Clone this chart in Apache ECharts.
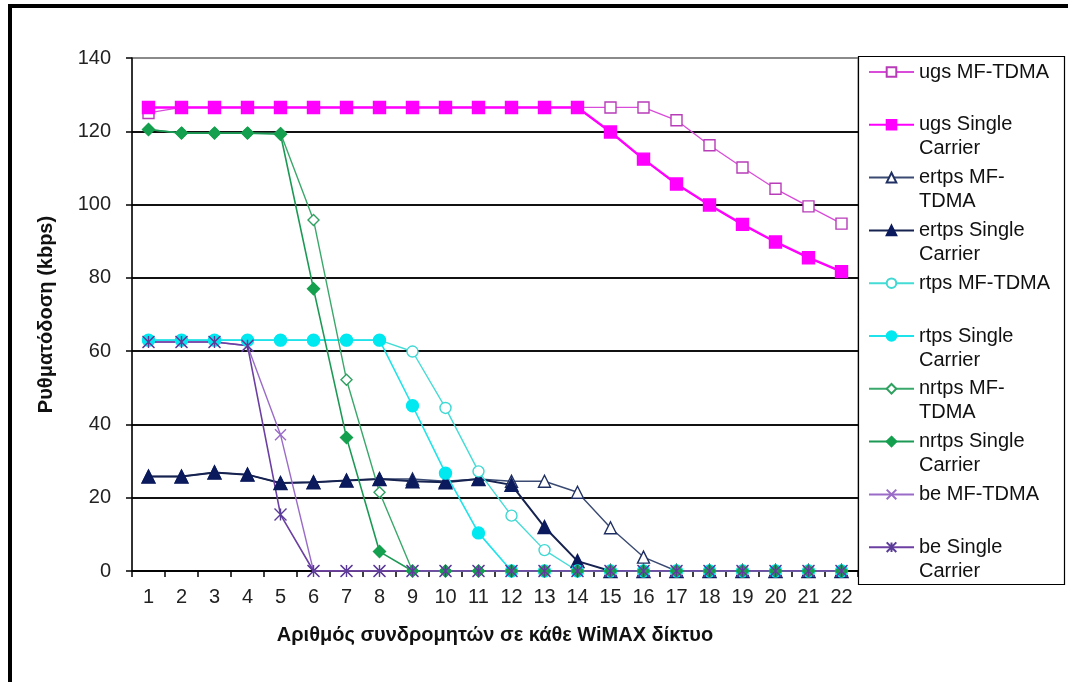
<!DOCTYPE html>
<html>
<head>
<meta charset="utf-8">
<script src="https://cdn.jsdelivr.net/npm/echarts@6/dist/echarts.min.js"></script>
<style>
  html, body { margin: 0; padding: 0; background: #ffffff; }
  #chart { width: 1068px; height: 682px; }
</style>
</head>
<body>
<div id="chart"></div>
<script>
// Subscribers per WiMAX network (x) and throughput in kbps (y)
const categories = ['1','2','3','4','5','6','7','8','9','10','11','12','13','14','15','16','17','18','19','20','21','22'];

const ugsMF       = [125, 126.5, 126.5, 126.5, 126.5, 126.5, 126.5, 126.5, 126.5, 126.5, 126.5, 126.5, 126.5, 126.5, 126.5, 126.5, 123, 116.2, 110.1, 104.3, 99.5, 94.8];
const ugsSingle   = [126.5, 126.5, 126.5, 126.5, 126.5, 126.5, 126.5, 126.5, 126.5, 126.5, 126.5, 126.5, 126.5, 126.5, 119.8, 112.4, 105.6, 99.9, 94.6, 89.8, 85.5, 81.7];
const ertpsMF     = [25.8, 25.8, 26.9, 26.3, 24.0, 24.2, 24.7, 25.1, 25.1, 24.5, 25.1, 24.5, 24.5, 21.5, 11.8, 3.8, 0, 0, 0, 0, 0, 0];
const ertpsSingle = [25.8, 25.8, 26.9, 26.3, 24.0, 24.2, 24.7, 25.1, 24.5, 24.2, 25.1, 23.5, 12.0, 2.7, 0, 0, 0, 0, 0, 0, 0, 0];
const rtpsMF      = [63, 63, 63, 63, 63, 63, 63, 63, 59.9, 44.5, 27.2, 15.1, 5.7, 0, 0, 0, 0, 0, 0, 0, 0, 0];
const rtpsSingle  = [63, 63, 63, 63, 63, 63, 63, 63, 45.1, 26.7, 10.4, 0, 0, 0, 0, 0, 0, 0, 0, 0, 0, 0];
const nrtpsMF     = [120.5, 119.5, 119.5, 119.5, 119.5, 95.8, 52.2, 21.5, 0, 0, 0, 0, 0, 0, 0, 0, 0, 0, 0, 0, 0, 0];
const nrtpsSingle = [120.5, 119.5, 119.5, 119.5, 119.2, 77.0, 36.4, 5.3, 0, 0, 0, 0, 0, 0, 0, 0, 0, 0, 0, 0, 0, 0];
const beMF        = [62.5, 62.5, 62.5, 61.5, 37.2, 0, 0, 0, 0, 0, 0, 0, 0, 0, 0, 0, 0, 0, 0, 0, 0, 0];
const beSingle    = [62.5, 62.5, 62.5, 61.5, 15.4, 0, 0, 0, 0, 0, 0, 0, 0, 0, 0, 0, 0, 0, 0, 0, 0, 0];

const seriesNames = [
  'ugs MF-TDMA', 'ugs Single Carrier',
  'ertps MF-TDMA', 'ertps Single Carrier',
  'rtps MF-TDMA', 'rtps Single Carrier',
  'nrtps MF-TDMA', 'nrtps Single Carrier',
  'be MF-TDMA', 'be Single Carrier'
];
// Legend text as it wraps inside the legend box (one entry per series)
const legendText = [
  ['ugs MF-TDMA'], ['ugs Single', 'Carrier'],
  ['ertps MF-', 'TDMA'], ['ertps Single', 'Carrier'],
  ['rtps MF-TDMA'], ['rtps Single', 'Carrier'],
  ['nrtps MF-', 'TDMA'], ['nrtps Single', 'Carrier'],
  ['be MF-TDMA'], ['be Single', 'Carrier']
];
const yTickValues = [0, 20, 40, 60, 80, 100, 120, 140];

const seriesData = [ugsMF, ugsSingle, ertpsMF, ertpsSingle, rtpsMF, rtpsSingle, nrtpsMF, nrtpsSingle, beMF, beSingle];

// Marker shapes: cross (×) and asterisk (× with a vertical bar)
const CROSS = 'path://M0,0L10,10M10,0L0,10';
const STAR = 'path://M0,0L10,10M10,0L0,10M5,0L5,10';

const looks = [
  { line: '#d94cd9', fill: '#ffffff', edge: '#b83cb8', symbol: 'rect',     size: 11, width: 1.3 },
  { line: '#ff00ff', fill: '#ff00ff', edge: '#ff00ff', symbol: 'rect',     size: 12, width: 2.4 },
  { line: '#3a4a72', fill: '#ffffff', edge: '#1f2f63', symbol: 'triangle', size: 12, width: 1.4 },
  { line: '#16224f', fill: '#0b1a5c', edge: '#0b1a5c', symbol: 'triangle', size: 13, width: 2.0 },
  { line: '#45dcd6', fill: '#ffffff', edge: '#3fd8d2', symbol: 'circle',   size: 11, width: 1.4 },
  { line: '#1ee3ea', fill: '#00e8f0', edge: '#00e8f0', symbol: 'circle',   size: 12, width: 1.6 },
  { line: '#3aa86a', fill: '#ffffff', edge: '#2fa060', symbol: 'diamond',  size: 11, width: 1.4 },
  { line: '#1c9a55', fill: '#14a04e', edge: '#14a04e', symbol: 'diamond',  size: 12, width: 1.6 },
  { line: '#9a6cc8', fill: 'none',    edge: '#9a6cc8', symbol: CROSS,      size: 11, width: 1.4 },
  { line: '#6c3fa2', fill: 'none',    edge: '#5a3c98', symbol: STAR,       size: 12, width: 1.6 }
];

const series = seriesNames.map((name, i) => ({
  name: name,
  type: 'line',
  data: seriesData[i],
  symbol: looks[i].symbol,
  symbolSize: looks[i].size,
  showAllSymbol: true,
  lineStyle: { color: looks[i].line, width: looks[i].width },
  itemStyle: { color: looks[i].fill, borderColor: looks[i].edge, borderWidth: 1.4 },
  emphasis: { disabled: true }
}));

const FONT = '"Liberation Sans", Arial, sans-serif';

// Each legend entry is three text lines with the name on the middle one,
// so the icon (centred on the block) sits level with the first name line.
function legendLabel(name) {
  const parts = legendText[seriesNames.indexOf(name)];
  return ' \n' + parts[0] + '\n' + (parts[1] || ' ');
}

const chart = echarts.init(document.getElementById('chart'), null, { renderer: 'canvas' });
chart.setOption({
  animation: false,
  backgroundColor: '#ffffff',
  textStyle: { fontFamily: FONT },
  grid: {
    left: 132, right: 210, top: 58, bottom: 111,
    show: true, borderColor: '#8a8a8a', borderWidth: 1, backgroundColor: 'transparent'
  },
  xAxis: {
    type: 'category',
    data: categories,
    boundaryGap: true,
    axisLine: { lineStyle: { color: '#000', width: 1.5 } },
    axisTick: { show: true, length: 6, lineStyle: { color: '#000', width: 1.5 } },
    axisLabel: { margin: 16, fontSize: 20, color: '#222', fontFamily: FONT, interval: 0 },
    splitLine: { show: false },
    name: 'Αριθμός συνδρομητών σε κάθε WiMAX δίκτυο',
    nameLocation: 'middle',
    nameGap: 54,
    nameTextStyle: { fontSize: 20, fontWeight: 'bold', color: '#111', fontFamily: FONT }
  },
  yAxis: {
    type: 'value',
    min: yTickValues[0],
    max: yTickValues[yTickValues.length - 1],
    interval: yTickValues[1] - yTickValues[0],
    axisLine: { show: true, lineStyle: { color: '#000', width: 1.5 } },
    axisTick: { show: true, length: 6, lineStyle: { color: '#000', width: 1.5 } },
    axisLabel: { margin: 21, fontSize: 20, color: '#222', fontFamily: FONT },
    splitLine: {
      show: true,
      lineStyle: { color: ['#111', '#111', '#111', '#111', '#111', '#111', '#111', '#8a8a8a'], width: 2 }
    },
    name: 'Ρυθματόδοση (kbps)',
    nameLocation: 'middle',
    nameGap: 76,
    nameTextStyle: { fontSize: 20, fontWeight: 'bold', color: '#111', fontFamily: FONT }
  },
  legend: {
    show: true,
    orient: 'vertical',
    left: 868,
    top: 36,
    padding: 0,
    itemWidth: 45,
    itemHeight: 12,
    itemGap: -19.2,
    selectedMode: false,
    data: seriesNames,
    formatter: legendLabel,
    textStyle: { fontSize: 20, color: '#111', fontFamily: FONT, lineHeight: 24 }
  },
  graphic: [
    { type: 'rect', z: 3, shape: { x: 858.5, y: 56.5, width: 206, height: 528 },
      style: { fill: '#ffffff', stroke: '#000', lineWidth: 1.2 } },
    { type: 'rect', z: 10, shape: { x: 8, y: 4, width: 1060, height: 4 }, style: { fill: '#000' } },
    { type: 'rect', z: 10, shape: { x: 8, y: 4, width: 4, height: 678 }, style: { fill: '#000' } }
  ],
  series: series
});
</script>
</body>
</html>
